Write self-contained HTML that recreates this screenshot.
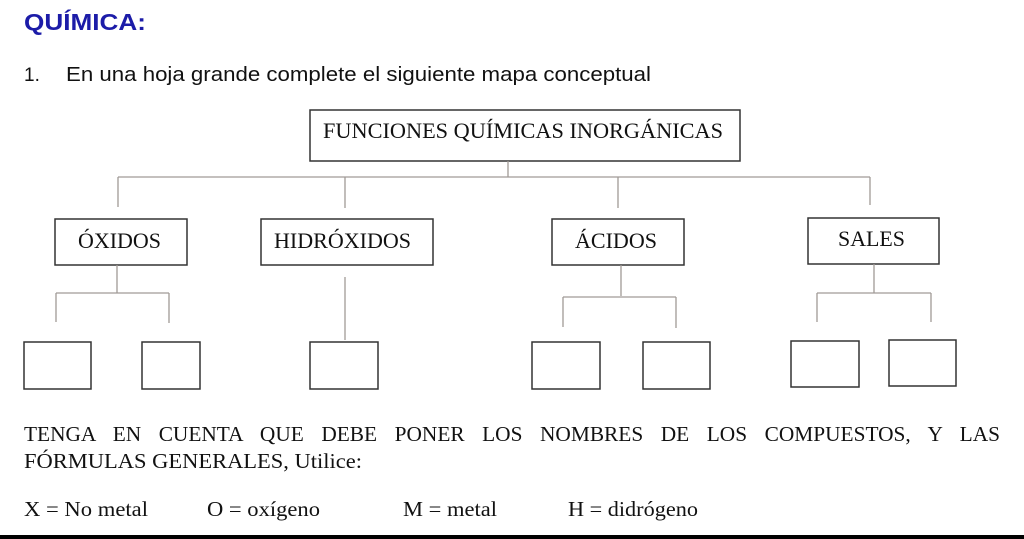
<!DOCTYPE html>
<html><head><meta charset="utf-8"><style>
html,body{margin:0;padding:0;background:#fff;}
svg{display:block;}
</style></head><body>
<svg width="1024" height="539" xmlns="http://www.w3.org/2000/svg">
<rect width="1024" height="539" fill="#fff"/>
<text x="24" y="30" font-family="Liberation Sans, sans-serif" font-weight="bold" font-size="23" fill="#1c1ca8" textLength="122" lengthAdjust="spacingAndGlyphs">QUÍMICA:</text>
<text x="24" y="81" font-family="Liberation Sans, sans-serif" font-size="19" fill="#111">1.</text>
<text x="66" y="81" font-family="Liberation Sans, sans-serif" font-size="20" fill="#111" textLength="585" lengthAdjust="spacingAndGlyphs">En una hoja grande complete el siguiente mapa conceptual</text>

<g fill="none" stroke="#333" stroke-width="1.5">
<rect x="310" y="110" width="430" height="51"/>
<rect x="55" y="219" width="132" height="46"/>
<rect x="261" y="219" width="172" height="46"/>
<rect x="552" y="219" width="132" height="46"/>
<rect x="808" y="218" width="131" height="46"/>
<rect x="24" y="342" width="67" height="47"/>
<rect x="142" y="342" width="58" height="47"/>
<rect x="310" y="342" width="68" height="47"/>
<rect x="532" y="342" width="68" height="47"/>
<rect x="643" y="342" width="67" height="47"/>
<rect x="791" y="341" width="68" height="46"/>
<rect x="889" y="340" width="67" height="46"/>
</g>
<g fill="none" stroke="#a09a96" stroke-width="1.3">
<path d="M508 161V177 M118 177H870 M118 177V207 M345 177V208 M618 177V208 M870 177V205"/>
<path d="M117 265V293 M56 293H169 M56 293V322 M169 293V323"/>
<path d="M345 277V340"/>
<path d="M621 265V296 M563 297H676 M563 297V327 M676 297V328"/>
<path d="M874 264V293 M817 293H931 M817 293V322 M931 293V322"/>
</g>
<g font-family="Liberation Serif, serif" fill="#111">
<g font-size="22">
<text x="323" y="138" textLength="400" lengthAdjust="spacingAndGlyphs">FUNCIONES QUÍMICAS INORGÁNICAS</text>
<text x="78" y="248" textLength="83" lengthAdjust="spacingAndGlyphs">ÓXIDOS</text>
<text x="274" y="248" textLength="137" lengthAdjust="spacingAndGlyphs">HIDRÓXIDOS</text>
<text x="575" y="248" textLength="82" lengthAdjust="spacingAndGlyphs">ÁCIDOS</text>
<text x="838" y="246" textLength="67" lengthAdjust="spacingAndGlyphs">SALES</text>
</g>
<g font-size="21">
<text x="24" y="441" textLength="976" lengthAdjust="spacingAndGlyphs" word-spacing="12">TENGA EN CUENTA QUE DEBE PONER LOS NOMBRES DE LOS COMPUESTOS, Y LAS</text>
<text x="24" y="468" textLength="338" lengthAdjust="spacingAndGlyphs">FÓRMULAS GENERALES, Utilice:</text>
<text x="24" y="516" textLength="124" lengthAdjust="spacingAndGlyphs">X = No metal</text>
<text x="207" y="516" textLength="113" lengthAdjust="spacingAndGlyphs">O = oxígeno</text>
<text x="403" y="516" textLength="94" lengthAdjust="spacingAndGlyphs">M = metal</text>
<text x="568" y="516" textLength="130" lengthAdjust="spacingAndGlyphs">H = didrógeno</text>
</g>
</g>
<rect x="0" y="535" width="1024" height="4" fill="#000"/>
</svg>
</body></html>
